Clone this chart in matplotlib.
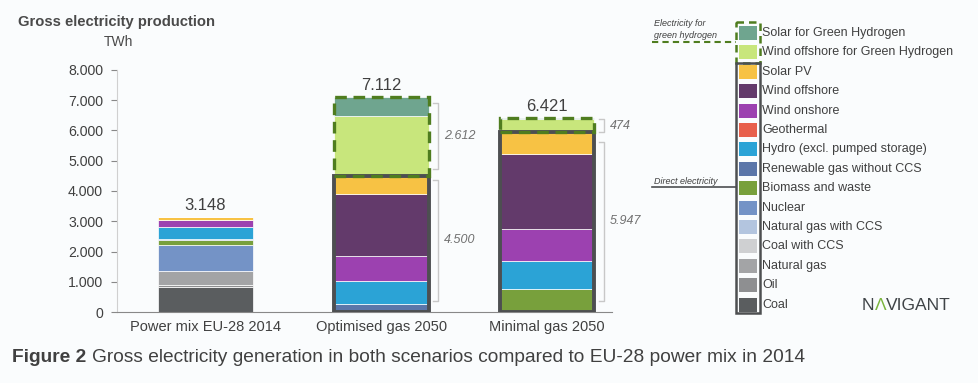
import numpy as np
import matplotlib

matplotlib.use("Agg")
import matplotlib.pyplot as plt
from matplotlib.patches import Rectangle

plt.rcParams["font.family"] = ["Liberation Sans", "DejaVu Sans"]

# ---- data (TWh) ----
scenarios = ["Power mix EU-28 2014", "Optimised gas 2050", "Minimal gas 2050"]
totals = [3148, 7112, 6421]
direct_totals = [None, 4500, 5947]
hydrogen_totals = [None, 2612, 474]

# stacking order bottom -> top
series = [
    "Coal", "Oil", "Natural gas", "Coal with CCS", "Natural gas with CCS",
    "Nuclear", "Biomass and waste", "Renewable gas without CCS",
    "Hydro (excl. pumped storage)", "Geothermal", "Wind onshore",
    "Wind offshore", "Solar PV", "Wind offshore for Green Hydrogen",
    "Solar for Green Hydrogen",
]
colors = [
    "#5a5d5f", "#8e8f91", "#a3a4a6", "#cfd0d2", "#b3c5df",
    "#7493c6", "#78a03c", "#5b76a9",
    "#2ba3d6", "#e8604c", "#9c41b0",
    "#633a6b", "#f7c244", "#c8e67c",
    "#6fa58f",
]
values = {
    "Coal":                             [820, 0, 0],
    "Oil":                              [60, 0, 0],
    "Natural gas":                      [470, 0, 0],
    "Coal with CCS":                    [0, 0, 0],
    "Natural gas with CCS":             [0, 0, 0],
    "Nuclear":                          [865, 0, 0],
    "Biomass and waste":                [170, 0, 760],
    "Renewable gas without CCS":        [40, 280, 0],
    "Hydro (excl. pumped storage)":     [370, 750, 925],
    "Geothermal":                       [6, 0, 0],
    "Wind onshore":                     [230, 830, 1060],
    "Wind offshore":                    [25, 2030, 2470],
    "Solar PV":                         [92, 610, 732],
    "Wind offshore for Green Hydrogen": [0, 1972, 444],
    "Solar for Green Hydrogen":         [0, 640, 30],
}
hydrogen_series = ["Wind offshore for Green Hydrogen", "Solar for Green Hydrogen"]

yticks = [0, 1000, 2000, 3000, 4000, 5000, 6000, 7000, 8000]
ytick_labels = ["0", "1.000", "2.000", "3.000", "4.000", "5.000", "6.000", "7.000", "8.000"]

# bracket extents (y, in TWh) drawn beside the 2050 bars: (lower, upper)
brackets = {
    1: [(370, 4360), (4720, 6920)],
    2: [(370, 5630), (5950, 6380)],
}


def fmt(v):
    return f"{v:,}".replace(",", ".")


W, H = 979, 383
fig = plt.figure(figsize=(W / 100, H / 100), dpi=100)
fig.patch.set_facecolor("#fafcfd")

ax = fig.add_axes([117 / W, 1 - 312 / H, (612 - 117) / W, (312 - 70) / H])
ax.set_facecolor("none")

xpos = np.array([0, 1.03, 2.0])
bw = 0.555
bottom = np.zeros(len(scenarios))
for name, col in zip(series, colors):
    v = np.array(values[name], dtype=float)
    ax.bar(xpos, v, bw, bottom=bottom, color=col, edgecolor="white", linewidth=0.5, zorder=2)
    bottom += v

green_dark = "#4f7d1f"
box_dark = "#4d4f51"
brk_col = "#c8c8c8"
for i, x in enumerate(xpos):
    ax.text(x, totals[i] + 120, fmt(totals[i]), ha="center", va="bottom",
            fontsize=12, color="#404040")
    if direct_totals[i] is None:
        continue
    d, h = direct_totals[i], hydrogen_totals[i]
    ax.add_patch(Rectangle((x - bw / 2, 0), bw, d, fill=False, edgecolor=box_dark,
                           linewidth=2.8, zorder=3))
    ax.add_patch(Rectangle((x - bw / 2, d), bw, h, fill=False, edgecolor=green_dark,
                           linewidth=2.4, linestyle=(0, (3.5, 2)), zorder=4))
    bx = x + bw / 2 + 0.024
    tk = 0.03
    for (lo, hi), val in zip(brackets[i], [d, h]):
        ax.plot([bx, bx + tk, bx + tk, bx], [hi, hi, lo, lo], color=brk_col,
                linewidth=1.0, zorder=1, clip_on=False)
        ax.text(bx + tk + 0.035, (lo + hi) / 2, fmt(val), ha="left", va="center",
                fontsize=9, style="italic", color="#707070", clip_on=False)

ax.set_ylim(0, 8000)
ax.set_xlim(-0.515, 2.38)
ax.set_yticks(yticks)
ax.set_yticklabels(ytick_labels, fontsize=10.2, color="#404040")
ax.set_xticks(xpos)
ax.set_xticklabels(scenarios, fontsize=10.5, color="#404040")
ax.tick_params(axis="x", length=0, pad=6)
ax.tick_params(axis="y", length=4, color="#888888", pad=6)
for s in ["top", "right"]:
    ax.spines[s].set_visible(False)
ax.spines["left"].set_color("#d0d0d0")
ax.spines["bottom"].set_color("#888888")

# ---- overlay in pixel coordinates for titles, legend, notes ----
ov = fig.add_axes([0, 0, 1, 1])
ov.set_xlim(0, W)
ov.set_ylim(H, 0)
ov.axis("off")
ov.set_facecolor("none")

ov.text(18, 22, "Gross electricity production", fontsize=10.6, fontweight="bold",
        color="#4a4a4a", va="center")
ov.text(104, 42, "TWh", fontsize=10, color="#4a4a4a", va="center")

# legend (top to bottom)
leg_x, leg_w, leg_h = 739, 18, 14
row0, step = 33, 19.4
for j, (name, col) in enumerate(zip(series[::-1], colors[::-1])):
    yc = row0 + j * step
    ov.add_patch(Rectangle((leg_x, yc - leg_h / 2), leg_w, leg_h, color=col, linewidth=0))
    ov.text(leg_x + leg_w + 5, yc, name, fontsize=9, color="#404040", va="center")

n_h = len(hydrogen_series)
box_l, box_r = 736, 760
ov.add_patch(Rectangle((box_l, row0 - 11), box_r - box_l, n_h * step + 2, fill=False,
                       edgecolor=green_dark, linewidth=1.8, linestyle=(0, (3, 2))))
ov.add_patch(Rectangle((box_l, row0 - 11 + n_h * step + 2), box_r - box_l,
                       (len(series) - n_h) * step - 2, fill=False,
                       edgecolor=box_dark, linewidth=1.8))

ov.text(654, 23, "Electricity for", fontsize=6.5, style="italic", color="#404040", va="center")
ov.text(654, 35, "green hydrogen", fontsize=6.5, style="italic", color="#404040", va="center")
ov.plot([652, box_l], [41.5, 41.5], color=green_dark, linewidth=1.5, linestyle=(0, (3, 2)))
ov.text(654, 181, "Direct electricity", fontsize=6.5, style="italic", color="#404040",
        va="center")
ov.plot([652, box_l], [187, 187], color=box_dark, linewidth=1.2)

renderer = fig.canvas.get_renderer()
inv = ov.transData.inverted()


def text_run(x, y, parts, **kw):
    """Place text pieces one after another along a line (pixel coords)."""
    for s, extra in parts:
        t = ov.text(x, y, s, va="center", **{**kw, **extra})
        bb = t.get_window_extent(renderer)
        x = inv.transform((bb.x1, bb.y0))[0]
    return x


# logo: the first A drawn as a green chevron
text_run(862, 306, [("N", {}), ("\u039b", {"color": "#7ab43c"}), ("VIGANT", {})],
         fontsize=12.5, color="#3f4447")

text_run(12, 358, [("Figure 2 ", {"fontweight": "bold"}),
                   ("Gross electricity generation in both scenarios compared to EU-28 "
                    "power mix in 2014", {})],
         fontsize=13.75, color="#404040")

fig.savefig("out.png", dpi=100, facecolor=fig.get_facecolor())
